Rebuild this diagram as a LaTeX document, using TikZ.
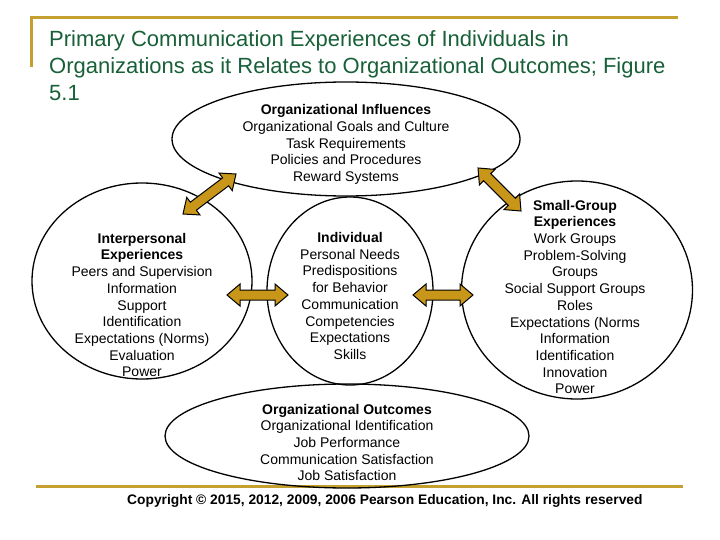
\documentclass[tikz,border=0pt]{standalone}
\usepackage{fontspec}
\setmainfont{Liberation Sans}
\usetikzlibrary{shapes.geometric,calc}

\definecolor{slidegold}{RGB}{196,160,48}
\definecolor{arrowgold}{RGB}{200,150,24}
\definecolor{titlegreen}{RGB}{24,96,56}

\tikzset{
	bubble/.style={draw,ellipse,line width=1.3pt,inner sep=0pt},
	bubbletext/.style={align=center,inner sep=0pt,font=\fontsize{14}{16.7}\selectfont},
	goldrule/.style={slidegold,line width=3pt},
	arrowbody/.style={fill=arrowgold,draw=black,line width=1pt,line join=miter}
}

% two-headed block arrow between two points
\newcommand{\blockarrow}[2]{%
	\coordinate (ba1) at ($(#1)!13pt!(#2)$);
	\coordinate (ba2) at ($(#2)!13pt!(#1)$);
	\filldraw[arrowbody] (#1) -- ($(ba1)!11pt!90:(#2)$) -- ($(ba1)!5pt!90:(#2)$)
		-- ($(ba2)!5pt!-90:(#1)$) -- ($(ba2)!11pt!-90:(#1)$) -- (#2)
		-- ($(ba2)!11pt!90:(#1)$) -- ($(ba2)!5pt!90:(#1)$)
		-- ($(ba1)!5pt!-90:(#2)$) -- ($(ba1)!11pt!-90:(#2)$) -- cycle;}

\begin{document}
\begin{tikzpicture}[x=1pt,y=-1pt]
	\useasboundingbox (0,0) rectangle (720,540);
	% slide frame
	\draw[goldrule] (30,18) -- (678,18);
	\draw[goldrule] (31,18) -- (31,67);
	\draw[goldrule] (36,486) -- (683,486);
	% title
	\node[anchor=north west,align=left,inner sep=0pt,text=titlegreen,font=\fontsize{22}{27}\selectfont] (title) at (49,30)
		{Primary Communication Experiences of Individuals in\\Organizations as it Relates to Organizational Outcomes; Figure\\5.1};
	% ellipses and circles
	\node[bubble,minimum width=348,minimum height=114] (infl) at (346,139) {};
	\node[bubble,minimum width=220,minimum height=196] (inter) at (142,281) {};
	\node[bubble,minimum width=166,minimum height=188] (indiv) at (350,291) {};
	\node[bubble,minimum width=231,minimum height=218] (group) at (577,290) {};
	\node[bubble,minimum width=364,minimum height=104] (outc) at (347,436) {};
	% texts
	\node[bubbletext] (infltext) at (346,144.5) {\textbf{Organizational Influences}\\Organizational Goals and Culture\\Task Requirements\\Policies and Procedures\\Reward Systems};
	\node[bubbletext] (intertext) at (142,305) {\textbf{Interpersonal}\\\textbf{Experiences}\\Peers and Supervision\\Information\\Support\\Identification\\Expectations (Norms)\\Evaluation\\Power};
	\node[bubbletext] (indivtext) at (350,296) {\textbf{Individual}\\Personal Needs\\Predispositions\\for Behavior\\Communication\\Competencies\\Expectations\\Skills};
	\node[bubbletext] (grouptext) at (575,297) {\textbf{Small-Group}\\\textbf{Experiences}\\Work Groups\\Problem-Solving\\Groups\\Social Support Groups\\Roles\\Expectations (Norms\\Information\\Identification\\Innovation\\Power};
	\node[bubbletext] (outctext) at (347,442.5) {\textbf{Organizational Outcomes}\\Organizational Identification\\Job Performance\\Communication Satisfaction\\Job Satisfaction};
	% arrow ends
	\coordinate (a1) at ($(inter.center)+(41,-67)$);
	\coordinate (a2) at ($(infl.center)+(-110,35)$);
	\coordinate (b1) at ($(infl.center)+(132,29)$);
	\coordinate (b2) at ($(group.center)+(-56,-79)$);
	\coordinate (c1) at ($(inter.center)+(85,14)$);
	\coordinate (c2) at ($(indiv.center)+(-62,4)$);
	\coordinate (d1) at ($(indiv.center)+(63,4)$);
	\coordinate (d2) at ($(group.center)+(-104,5)$);
	% arrows
	\blockarrow{a1}{a2}
	\blockarrow{b1}{b2}
	\blockarrow{c1}{c2}
	\blockarrow{d1}{d2}
	% copyright
	\node[anchor=west,inner sep=0pt,font=\bfseries\fontsize{13.8}{16}\selectfont] (copy) at (127,501)
		{Copyright © 2015, 2012, 2009, 2006 Pearson Education, Inc. All rights reserved};
\end{tikzpicture}
\end{document}
